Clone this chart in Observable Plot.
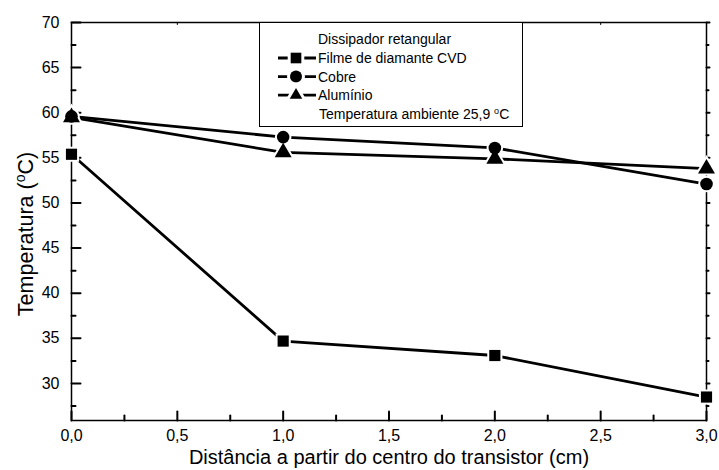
<!DOCTYPE html>
<html>
<head>
<meta charset="utf-8">
<script src="https://cdn.jsdelivr.net/npm/d3@7"></script>
<script src="https://cdn.jsdelivr.net/npm/@observablehq/plot@0.6"></script>
<style>
  body { margin: 0; background: #fff; font-family: "Liberation Sans", Arial, sans-serif; }
  #wrap { position: relative; width: 719px; height: 470px; }
  #legend { position: absolute; left: 259px; top: 22px; width: 264px; height: 105px; border: 1px solid #000; background: #fff; box-sizing: border-box; }
</style>
</head>
<body>
<div id="wrap"></div>
<script>
const distances = [0, 1, 2, 3];
const filme = [55.4, 34.7, 33.1, 28.5];
const cobre = [59.6, 57.3, 56.1, 52.1];
const aluminio = [59.5, 55.6, 54.9, 53.8];
const seriesNames = ["Filme de diamante CVD", "Cobre", "Alumínio"];
const seriesSymbols = ["square", "circle", "triangle"];
const xTicks = [0, 0.5, 1, 1.5, 2, 2.5, 3];
const xMinor = [0.25, 0.75, 1.25, 1.75, 2.25, 2.75];
const yTicks = [30, 35, 40, 45, 50, 55, 60, 65, 70];
const yMinor = [27.5, 32.5, 37.5, 42.5, 47.5, 52.5, 57.5, 62.5, 67.5];
const legendTitle = "Dissipador retangular";
const legendNote = "Temperatura ambiente 25,9 ";

const xDomain = [0, 3];
const yDomain = [25.9, 70];

const allSeries = [filme, cobre, aluminio];
const rows = [];
allSeries.forEach((vals, i) => vals.forEach((v, j) => rows.push({serie: seriesNames[i], sym: seriesSymbols[i], x: distances[j], y: v})));

const fmt = d => d3.format(".1f")(d).replace(".", ",");
const font = "Liberation Sans, Arial, sans-serif";

const W = 719, H = 470, mL = 71, mR = 13, mT = 22, mB = 50;

// straight-line shape for tick vectors
const stick = {draw(context, l) { context.moveTo(0, 0); context.lineTo(0, -l); }};

function tickMarks(data, ch, at, len, rot, sw) {
  const o = {length: len, rotate: rot, anchor: "start", shape: stick, stroke: "black", strokeWidth: sw};
  if (ch === "x") { o.x = d => d; o.y = at; } else { o.y = d => d; o.x = at; }
  return Plot.vector(data, o);
}

const plot = Plot.plot({
  width: W,
  height: H,
  marginLeft: mL,
  marginRight: mR,
  marginTop: mT,
  marginBottom: mB,
  style: {fontFamily: font, fontSize: "16px", background: "#fff"},
  x: {domain: xDomain},
  y: {domain: yDomain},
  marks: [
    Plot.frame({stroke: "black", strokeWidth: 1.5}),
    Plot.axisX({ticks: xTicks, tickSize: 0, tickPadding: 9, tickFormat: fmt, fontSize: 16, fill: "black", label: null}),
    Plot.axisY({ticks: yTicks, tickSize: 0, tickPadding: 12, tickFormat: d => d, fontSize: 16, fill: "black", label: null}),
    tickMarks(xTicks, "x", yDomain[0], 9, 0, 2),
    tickMarks(xMinor, "x", yDomain[0], 5, 0, 2),
    tickMarks(xTicks, "x", yDomain[1], 2, 180, 1),
    tickMarks(yTicks, "y", xDomain[0], 9, 90, 2),
    tickMarks(yMinor, "y", xDomain[0], 4, 90, 2),
    tickMarks(yTicks, "y", xDomain[1], 3, 90, 2),
    tickMarks(yMinor, "y", xDomain[1], 2, 90, 2),
    Plot.text(["Distância a partir do centro do transistor (cm)"], {frameAnchor: "bottom", dy: 43, fontSize: 20, fill: "black"}),
    Plot.line(rows, {x: "x", y: "y", z: "serie", stroke: "black", strokeWidth: 2.8}),
    Plot.dot(rows, {x: "x", y: "y", symbol: "sym", r: 6.3, fill: "black", stroke: "white", strokeWidth: 4}),
    Plot.dot(rows, {x: "x", y: "y", symbol: "sym", r: 6.3, fill: "black"})
  ]
});

const wrap = document.getElementById("wrap");
wrap.appendChild(plot);

// y axis title with superscript degree mark
const ps = d3.select(plot);
const yt = ps.append("text")
  .attr("transform", `translate(33,234) rotate(-90)`)
  .attr("text-anchor", "middle")
  .style("font-family", font).style("font-size", "21.5px").attr("fill", "#000");
yt.append("tspan").text("Temperatura (");
yt.append("tspan").attr("dy", -8).style("font-size", "14px").text("o");
yt.append("tspan").attr("dy", 8).text("C)");

// legend
const leg = document.createElement("div");
leg.id = "legend";
wrap.appendChild(leg);
const lw = 264, lh = 105;
const svg = d3.select(leg).append("svg").attr("width", lw - 2).attr("height", lh - 2)
  .style("font-family", font).style("font-size", "14px");
svg.append("text").attr("x", 58).attr("y", 21).text(legendTitle);
seriesNames.forEach((name, i) => {
  const cy = 35 + i * 18.6;
  svg.append("line").attr("x1", 18).attr("x2", 56).attr("y1", cy).attr("y2", cy).attr("stroke", "#000").attr("stroke-width", 2.8);
  const sym = d3.symbol().type([d3.symbolSquare, d3.symbolCircle, d3.symbolTriangle2][i]).size(Math.PI * 6 * 6);
  svg.append("path").attr("d", sym()).attr("transform", `translate(36,${cy})`).attr("fill", "#000").attr("stroke", "#fff").attr("stroke-width", 6).attr("paint-order", "stroke");
  svg.append("text").attr("x", 58).attr("y", cy + 5).text(name);
});
const nt = svg.append("text").attr("x", 59).attr("y", 96).text(legendNote);
nt.append("tspan").attr("dy", -5).style("font-size", "9px").text("o");
nt.append("tspan").attr("dy", 5).text("C");
</script>
</body>
</html>
